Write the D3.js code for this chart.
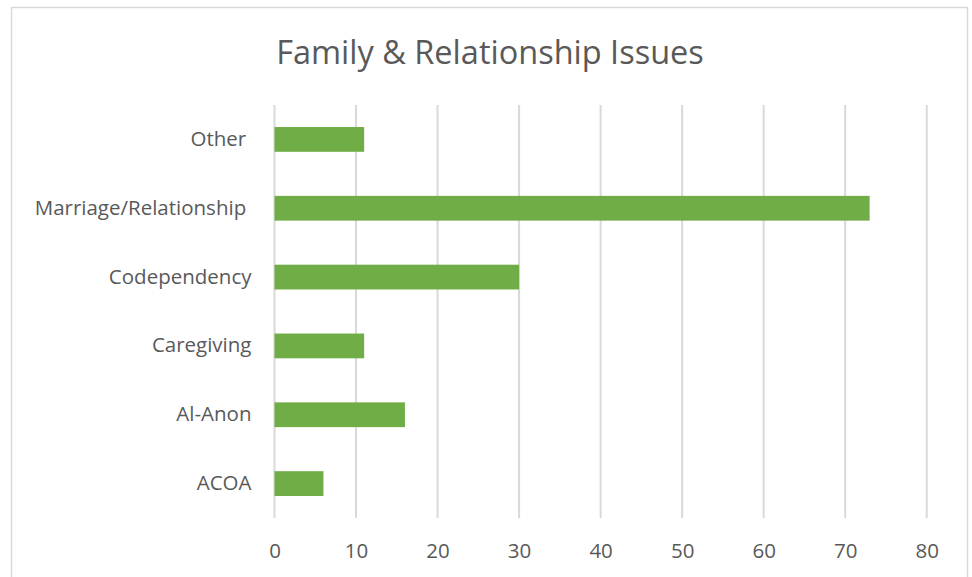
<!DOCTYPE html>
<html>
<head>
<meta charset="utf-8">
<script src="https://cdn.jsdelivr.net/npm/d3@7"></script>
<style>
  html, body { margin: 0; padding: 0; background: #fff; }
  svg { display: block; }
</style>
</head>
<body>
<svg id="chart" width="972" height="577"></svg>
<script>
// Categories listed top to bottom, with their counts
const categories = ["Other ", "Marriage/Relationship ", "Codependency", "Caregiving", "Al-Anon", "ACOA"];
const counts = [11, 73, 30, 11, 16, 6];
const tickValues = [0, 10, 20, 30, 40, 50, 60, 70, 80];
const chartTitle = "Family & Relationship Issues";

const svg = d3.select("#chart");
const font = "'Open Sans', 'Noto Sans', sans-serif";
const textColor = "#595959";
const gridColor = "#d9d9d9";

// Outer chart frame
svg.append("rect")
  .attr("x", 11.5).attr("y", 7.5)
  .attr("width", 956).attr("height", 600)
  .attr("fill", "#fff").attr("stroke", gridColor).attr("stroke-width", 1.5);

const plot = { left: 274.5, right: 926.7, top: 105, bottom: 518 };

const x = d3.scaleLinear().domain([0, 80]).range([plot.left, plot.right]);
const y = d3.scaleBand().domain(categories).range([plot.top, plot.bottom]).paddingInner(0.64).paddingOuter(0.32);

// Title
svg.append("text")
  .attr("x", 490).attr("y", 64)
  .attr("text-anchor", "middle")
  .attr("font-family", font).attr("font-size", 32.5)
  .attr("fill", textColor)
  .text(chartTitle);

// Vertical gridlines
svg.append("g")
  .selectAll("line")
  .data(tickValues)
  .join("line")
  .attr("x1", d => x(d)).attr("x2", d => x(d))
  .attr("y1", plot.top).attr("y2", plot.bottom)
  .attr("stroke", gridColor).attr("stroke-width", 2);

// Bars
svg.append("g")
  .selectAll("rect")
  .data(categories)
  .join("rect")
  .attr("x", x(0))
  .attr("y", d => y(d))
  .attr("width", (d, i) => x(counts[i]) - x(0))
  .attr("height", y.bandwidth())
  .attr("fill", "#70ad47");

// X axis labels
const xAxis = d3.axisBottom(x).tickValues(tickValues).tickSize(0).tickPadding(0);
const gx = svg.append("g").attr("transform", `translate(0,${plot.bottom + 25})`).call(xAxis);
gx.select(".domain").remove();
gx.selectAll("text")
  .attr("font-family", font).attr("font-size", 20.5)
  .attr("fill", textColor).attr("dy", "0.71em");

// Y axis labels
const yAxis = d3.axisLeft(y).tickSize(0).tickPadding(0);
const gy = svg.append("g").attr("transform", `translate(${plot.left - 23},0)`).call(yAxis);
gy.select(".domain").remove();
gy.selectAll("text")
  .attr("font-family", font).attr("font-size", 20.5)
  .attr("fill", textColor)
  .style("white-space", "pre");
</script>
</body>
</html>
